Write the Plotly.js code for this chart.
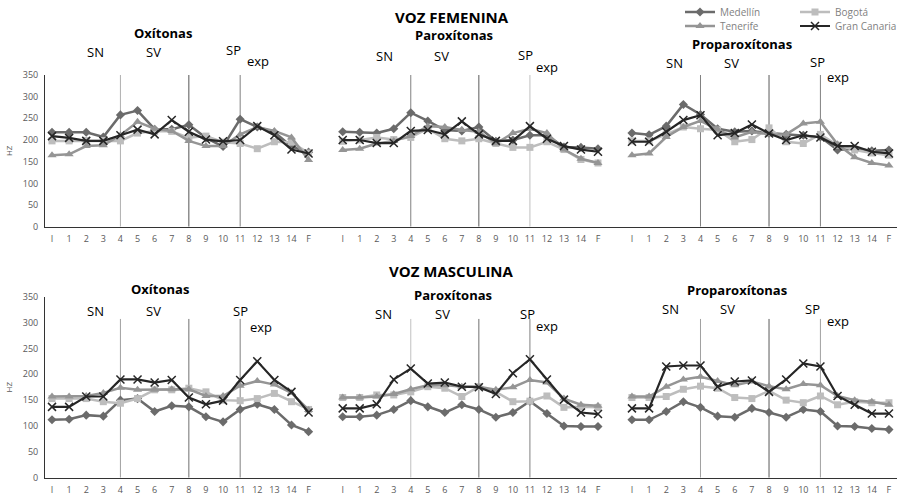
<!DOCTYPE html>
<html>
<head>
<meta charset="utf-8">
<script src="https://cdn.plot.ly/plotly-3.0.1.min.js"></script>
<style>html,body{margin:0;padding:0;background:#fff;}#chart{width:899px;height:495px;}</style>
</head>
<body>
<div id="chart"></div>
<script>
// ---- data ----
const categories = ["I","1","2","3","4","5","6","7","8","9","10","11","12","13","14","F"];
const seriesNames = ["Medellín","Bogotá","Tenerife","Gran Canaria"];

// Voz femenina
const femOxMedellin   = [218,218,218,207,258,268,225,225,235,205,185,248,230,218,185,172];
const femOxBogota     = [198,198,199,199,198,216,220,220,205,209,195,192,180,196,195,170];
const femOxTenerife   = [165,167,186,188,211,242,226,221,198,186,186,213,230,221,206,154];
const femOxGranCanaria= [209,205,198,198,211,224,213,246,219,201,197,200,232,211,178,169];

const femParMedellin   = [219,218,216,226,263,244,223,221,230,197,200,211,211,184,183,180];
const femParBogota     = [197,200,206,201,206,226,203,198,203,192,183,183,196,178,155,147];
const femParTenerife   = [177,180,192,198,209,232,230,223,219,192,216,226,216,178,157,147];
const femParGranCanaria= [200,200,193,193,221,223,213,243,213,198,198,232,203,186,178,173];

const femProMedellin   = [216,212,232,282,259,226,219,221,216,213,211,207,177,180,175,177];
const femProBogota     = [198,198,213,230,226,223,196,201,228,196,192,213,188,177,170,165];
const femProTenerife   = [165,169,207,230,244,224,206,219,213,213,238,242,190,160,147,141];
const femProGranCanaria= [196,196,219,246,257,211,216,236,215,200,211,206,186,186,173,169];

// Voz masculina
const mascOxMedellin   = [112,113,121,119,150,153,128,139,137,118,108,132,142,132,102,89];
const mascOxBogota     = [153,153,153,147,144,153,170,170,173,166,150,149,153,163,147,132];
const mascOxTenerife   = [157,157,158,164,174,170,170,171,171,158,158,178,187,180,164,131];
const mascOxGranCanaria= [137,137,157,157,190,190,184,189,155,142,149,189,225,189,166,126];

const mascParMedellin   = [118,118,121,132,149,137,126,141,132,117,126,148,124,100,99,99];
const mascParBogota     = [155,155,160,160,166,176,173,157,176,166,147,148,158,136,137,136];
const mascParTenerife   = [155,155,157,162,171,179,179,176,176,170,175,189,184,153,141,139];
const mascParGranCanaria= [134,134,142,190,211,182,184,176,175,162,202,229,190,151,126,123];

const mascProMedellin   = [112,112,128,147,136,119,117,134,126,117,132,128,100,99,95,93];
const mascProBogota     = [155,155,157,171,177,173,155,153,168,150,145,158,141,147,145,145];
const mascProTenerife   = [157,157,176,190,195,187,179,186,177,171,181,179,158,150,147,141];
const mascProGranCanaria= [134,134,215,217,217,176,186,188,166,190,221,215,158,141,124,124];

const yTickVals = [0,50,100,150,200,250,300,350];
const boundaryCats = ["4","8","11"];
const segmentLabels = ["SN","SV","SP","exp"];
const panelTitles = ["Oxítonas","Paroxítonas","Proparoxítonas"];
const rowTitles = ["VOZ FEMENINA","VOZ MASCULINA"];

// ---- styles ----
const W = 899, H = 495;
const px = x => x / W;
const py = y => 1 - y / H;
const styles = [
  {color:"#6b6b6b", symbol:"diamond", size:7, width:2.5, legend:"legend"},
  {color:"#bdbdbd", symbol:"square", size:7, width:2.5, legend:"legend"},
  {color:"#959595", symbol:"triangle-up", size:8, width:2.5, legend:"legend2"},
  {color:"#262626", symbol:"x-thin-open", size:8, width:2.2, legend:"legend2"}
];

const panels = [
  {x:"x",  y:"y",  data:[femOxMedellin,femOxBogota,femOxTenerife,femOxGranCanaria]},
  {x:"x2", y:"y",  data:[femParMedellin,femParBogota,femParTenerife,femParGranCanaria]},
  {x:"x3", y:"y",  data:[femProMedellin,femProBogota,femProTenerife,femProGranCanaria]},
  {x:"x4", y:"y2", data:[mascOxMedellin,mascOxBogota,mascOxTenerife,mascOxGranCanaria]},
  {x:"x5", y:"y2", data:[mascParMedellin,mascParBogota,mascParTenerife,mascParGranCanaria]},
  {x:"x6", y:"y2", data:[mascProMedellin,mascProBogota,mascProTenerife,mascProGranCanaria]}
];

const traces = [];
panels.forEach((p, pi) => {
  p.data.forEach((vals, si) => {
    const s = styles[si];
    const marker = {symbol:s.symbol, size:s.size, color:s.color};
    if (s.symbol === "x-thin-open") marker.line = {color:s.color, width:1.5};
    traces.push({
      type:"scatter", mode:"lines+markers",
      x:categories, y:vals, xaxis:p.x, yaxis:p.y,
      name:seriesNames[si], legend:s.legend,
      showlegend: pi === 0,
      line:{color:s.color, width:s.width},
      marker:marker, cliponaxis:false, hoverinfo:"skip"
    });
  });
});

// axes
const tickFont = {family:"Open Sans, sans-serif", size:9, color:"#595959"};
const xDomains = [[45,325],[325,615],[615,897]];
const xRanges = [[-0.41,15.96],[-1.04,16.0],[-0.99,15.47]];
function xAxis(i, anchor) {
  return {
    domain:[px(xDomains[i][0]), px(xDomains[i][1])], anchor:anchor,
    type:"category", range:xRanges[i], showgrid:false, zeroline:false,
    showline:true, linecolor:"#333", linewidth:1.3, ticks:"",
    tickfont:tickFont, ticklabelstandoff:3, automargin:false, fixedrange:true
  };
}
function yAxis(dom, anchor) {
  return {
    domain:dom, anchor:anchor, range:[0,350], tickmode:"array", tickvals:yTickVals,
    showgrid:false, zeroline:false, showline:true, linecolor:"#333", linewidth:1,
    ticks:"", tickfont:tickFont, ticklabelstandoff:4, automargin:false, fixedrange:true,
    title:{text:"HZ", font:{family:"Open Sans, sans-serif", size:8, color:"#595959"}, standoff:8}
  };
}

// boundary lines
const vColors = [
  ["#b0b0b0","#555555","#808080"],
  ["#808080","#5a5a5a","#c0c0c0"],
  ["#808080","#5a5a5a","#808080"],
  ["#a0a0a0","#707070","#808080"],
  ["#c0c0c0","#707070","#808080"],
  ["#a0a0a0","#5a5a5a","#a0a0a0"]
];
const shapes = [];
panels.forEach((p, pi) => {
  const top = pi < 3 ? 361 : 307;
  boundaryCats.forEach((c, ci) => {
    shapes.push({type:"line", xref:p.x, yref:p.y, x0:categories.indexOf(c), x1:categories.indexOf(c),
      y0:0, y1:top, line:{color:vColors[pi][ci], width:1}, layer:"below"});
  });
});

// annotations
const ann = [];
function addText(text, x, y, size, bold) {
  ann.push({text: bold ? "<b>"+text+"</b>" : text, xref:"paper", yref:"paper",
    x:px(x), y:py(y), xanchor:"center", yanchor:"middle", showarrow:false,
    font:{family:"Open Sans, sans-serif", size:size, color:"#000"}});
}
addText(rowTitles[0], 452, 17, 15, true);
addText(rowTitles[1], 452, 271, 15, true);
const titlePos = [[163,33],[454,35],[742,44],[160,289],[453,295],[737,290]];
titlePos.forEach((t, i) => addText(panelTitles[i % 3], t[0], t[1], 13, true));
const segPos = [
  [[95,52],[153,52],[234,50],[258,61]],
  [[384,56],[441,56],[525,55],[547,67]],
  [[674,63],[731,63],[817,62],[838,77]],
  [[95,311],[153,311],[240,311],[261,327]],
  [[383,314],[442,314],[527,314],[547,326]],
  [[670,309],[727,309],[812,309],[838,321]]
];
segPos.forEach(ps => ps.forEach((p, i) => addText(segmentLabels[i], p[0], p[1], 13, false)));

const legendFont = {family:"Open Sans, sans-serif", size:10, color:"#7f7f7f"};
function legendAt(yc) {
  return {orientation:"h", x:px(680), y:py(yc), xanchor:"left", yanchor:"middle",
    entrywidth:70, entrywidthmode:"pixels", itemwidth:30, font:legendFont,
    bgcolor:"rgba(0,0,0,0)", borderwidth:0, tracegroupgap:0,
    itemclick:false, itemdoubleclick:false};
}
const layout = {
  width:W, height:H, margin:{l:0,r:0,t:0,b:0,pad:0,autoexpand:false},
  paper_bgcolor:"#fff", plot_bgcolor:"rgba(0,0,0,0)",
  font:{family:"Open Sans, sans-serif"},
  xaxis:xAxis(0,"y"), xaxis2:xAxis(1,"y"), xaxis3:xAxis(2,"y"),
  xaxis4:xAxis(0,"y2"), xaxis5:xAxis(1,"y2"), xaxis6:xAxis(2,"y2"),
  yaxis:yAxis([py(226.7), py(75)], "x"),
  yaxis2:yAxis([py(477.7), py(296.7)], "x4"),
  shapes:shapes, annotations:ann,
  legend:legendAt(12),
  legend2:legendAt(26),
  showlegend:true, hovermode:false
};

Plotly.newPlot("chart", traces, layout, {staticPlot:true, displayModeBar:false});
</script>
</body>
</html>
